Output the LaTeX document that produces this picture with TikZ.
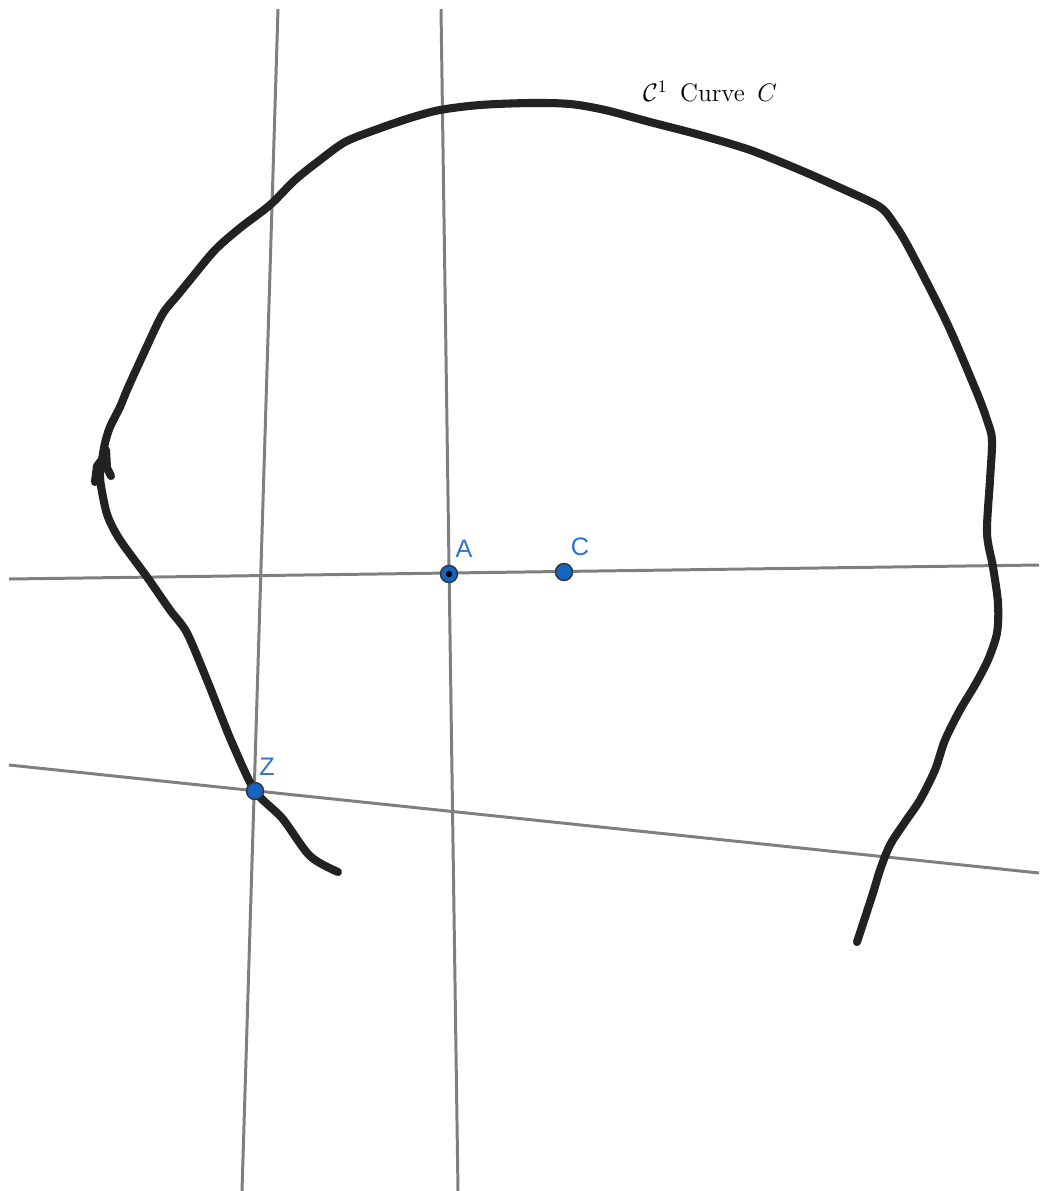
\documentclass[tikz,border=0pt]{standalone}
\usepackage{fontspec}
\newfontfamily\labelfont{Liberation Sans}
\usetikzlibrary{positioning}
\definecolor{cline}{HTML}{7F7F7F}
\definecolor{ccurve}{HTML}{222222}
\definecolor{cpoint}{HTML}{1565C0}
\definecolor{clabel}{HTML}{2F72CC}
\tikzset{
  guide/.style={draw=cline, line width=1.7pt},
  curve/.style={draw=ccurve, line width=4.6pt, line cap=round, line join=round},
  pt/.style={circle, draw=black!80, fill=cpoint, line width=0.8pt, minimum size=0.34cm, inner sep=0pt},
  ptlabel/.style={font=\labelfont\Large, text=clabel, inner sep=1pt},
}

\begin{document}
\begin{tikzpicture}[x=0.02cm, y=-0.02cm]
  \useasboundingbox (0,0) rectangle (1039,1191);
  % guide lines, pixel coordinates
  \coordinate (v1top) at (278,9);   \coordinate (v1bot) at (242,1191);
  \coordinate (v2top) at (441,9);   \coordinate (v2bot) at (458,1191);
  \coordinate (h1l) at (9,579);     \coordinate (h1r) at (1039,565);
  \coordinate (h2l) at (9,765);     \coordinate (h2r) at (1039,873);
  \draw[guide] (v1top) -- (v1bot);
  \draw[guide] (v2top) -- (v2bot);
  \draw[guide] (h1l) -- (h1r);
  \draw[guide] (h2l) -- (h2r);
  % the hand-drawn curve
  \draw[curve] plot[smooth, tension=0.5] coordinates {
    (338,872) (310,856) (282,818) (255,791) (233,745) (220,713) (207,680)
    (187,633) (170,610) (147,577) (120,540) (108,517) (103,497) (100,477)
    (102,460) (105,443) (110,427) (120,407) (127,390) (142,357) (162,315)
    (177,296) (190,280) (215,250) (240,228) (270,205) (295,180) (320,160)
    (345,142) (375,130) (410,118) (440,110) (480,105) (530,103) (570,104)
    (605,110) (650,122) (700,135) (750,150) (800,170) (845,190) (880,207)
    (895,225) (910,250) (947,323) (977,393) (987,420) (992,440) (990,480)
    (987,533) (993,567) (998,603) (997,633) (988,660) (975,685) (960,710)
    (945,740) (935,770) (920,800) (905,822) (890,845) (880,870) (873,893)
    (857,942)};
  \draw[curve] (104,457) -- (97,466) -- (95,482);
  \draw[curve] (106,450) -- (107,468) -- (111,476);
  \fill[ccurve] (161,316) circle (0.07cm);
  \node[font=\Large] (title) at (710,92) {$\mathcal{C}^1$\enspace Curve\enspace $C$};
  % points
  \node[pt] (A) at (449,574) {};
  \fill[black] (A) circle (0.065cm);
  \node[pt] (C) at (564,572) {};
  \node[pt] (Z) at (255,791) {};
  \node[ptlabel] (Alab) at (464,549) {A};
  \node[ptlabel] (Clab) at (580,547) {C};
  \node[ptlabel] (Zlab) at (267,767) {Z};
\end{tikzpicture}
\end{document}
